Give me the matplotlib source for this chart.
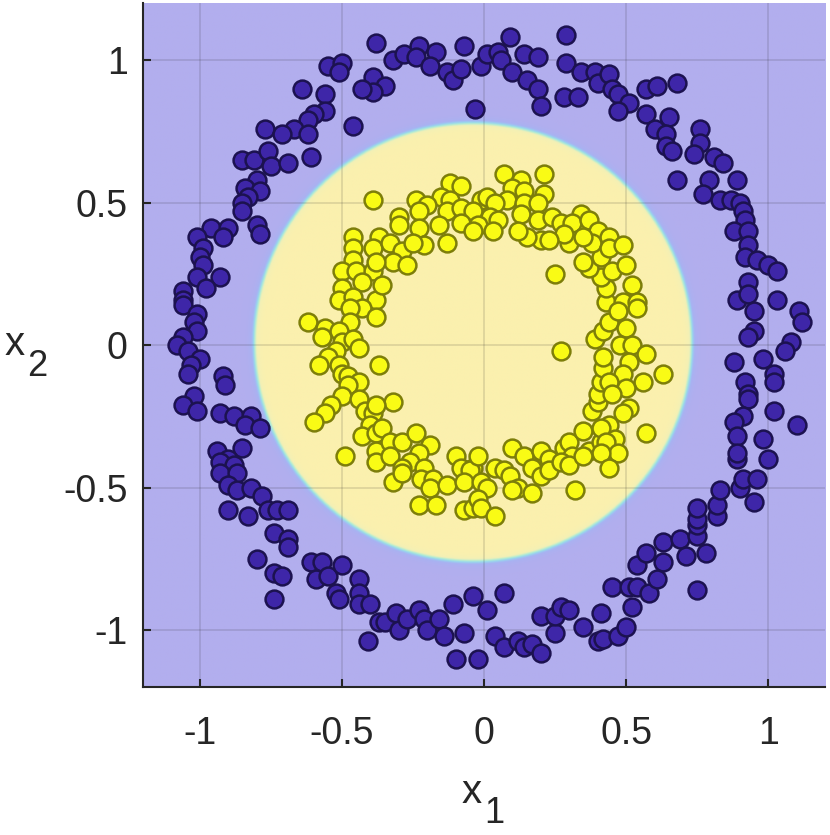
"""
Two-ring classification: scattered samples of both classes on top of the
classifier's decision region (purple = outer class, yellow = inner class).
"""
import numpy as np
import matplotlib
matplotlib.use("Agg")
import matplotlib.pyplot as plt
from matplotlib.colors import LinearSegmentedColormap

# samples of the outer ring (class 1), (x1, x2)
outer_pts = [
    (-0.38, 1.06), (-0.32, 1.00), (-0.28, 1.02), (-0.23, 1.05), (-0.24, 1.01),
    (-0.17, 1.03), (-0.19, 0.98), (-0.13, 0.96), (-0.11, 0.93), (-0.08, 0.97),
    (-0.07, 1.05), (-0.01, 0.98), (0.01, 1.02), (0.05, 1.03), (0.06, 1.00),
    (0.09, 1.08), (0.14, 1.02), (0.19, 1.01), (0.10, 0.96), (0.15, 0.93),
    (0.19, 0.90), (0.20, 0.84), (0.29, 1.09), (0.29, 0.99), (0.34, 0.96),
    (0.39, 0.96), (0.40, 0.92), (0.28, 0.87), (0.33, 0.87), (-0.03, 0.83),
    (-0.39, 0.94), (-0.35, 0.91), (-0.39, 0.89), (-0.55, 0.98), (-0.50, 0.99),
    (-0.51, 0.96), (-0.64, 0.90), (-0.56, 0.88), (-0.56, 0.82), (-0.60, 0.81),
    (-0.62, 0.79), (-0.67, 0.76), (-0.62, 0.74), (-0.77, 0.76), (-0.71, 0.74),
    (-0.43, 0.90), (-0.46, 0.77), (-0.85, 0.65), (-0.81, 0.65), (-0.76, 0.68),
    (-0.75, 0.63), (-0.69, 0.64), (-0.61, 0.66), (-0.80, 0.58), (-0.84, 0.55),
    (-0.79, 0.54), (-0.83, 0.52), (-0.85, 0.50), (-0.85, 0.47), (-0.96, 0.41),
    (-0.90, 0.41), (-1.01, 0.38), (-0.92, 0.38), (-0.80, 0.42), (-0.79, 0.39),
    (0.44, 0.95), (0.45, 0.90), (0.47, 0.88), (0.51, 0.85), (0.47, 0.82),
    (0.57, 0.90), (0.61, 0.91), (0.68, 0.92), (0.57, 0.81), (0.65, 0.80),
    (0.60, 0.76), (0.64, 0.74), (0.64, 0.70), (0.66, 0.68), (0.76, 0.76),
    (0.76, 0.71), (0.74, 0.67), (0.81, 0.66), (0.84, 0.64), (0.68, 0.58),
    (0.79, 0.58), (0.89, 0.58), (0.77, 0.53), (0.83, 0.51), (0.87, 0.51),
    (0.90, 0.50), (0.91, 0.47), (0.92, 0.44), (0.88, 0.40), (0.93, 0.40),
    (-0.99, 0.34), (-1.00, 0.31), (-0.99, 0.28), (-1.01, 0.24), (-0.93, 0.24),
    (-0.98, 0.20), (-1.06, 0.19), (-1.06, 0.16), (-1.06, 0.14), (-1.01, 0.11),
    (-1.02, 0.08), (-1.01, 0.05), (-1.06, 0.03), (-1.08, 0.00), (-1.04, -0.02),
    (-1.00, -0.05), (-1.03, -0.07), (-1.04, -0.10), (-0.92, -0.11), (-0.91, -0.14),
    (-1.02, -0.18), (-1.06, -0.21), (-1.01, -0.23), (-0.93, -0.24), (-0.88, -0.25),
    (-0.82, -0.25), (-0.84, -0.28), (-0.79, -0.29), (-0.94, -0.37), (-0.85, -0.36),
    (-0.90, -0.40), (-0.93, -0.41), (-0.88, -0.42), (-0.93, -0.45), (-0.87, -0.45),
    (-0.90, -0.49), (-0.87, -0.51), (-0.82, -0.50), (-0.78, -0.53), (-0.90, -0.58),
    (-0.83, -0.60), (-0.76, -0.58), (-0.73, -0.58), (-0.69, -0.58), (-0.74, -0.66),
    (-0.69, -0.68), (-0.69, -0.71), (-0.80, -0.75), (-0.74, -0.80), (-0.71, -0.81),
    (-0.74, -0.89), (-0.61, -0.76), (-0.57, -0.76), (-0.59, -0.82), (-0.55, -0.81),
    (-0.50, -0.77), (-0.44, -0.82), (-0.52, -0.87), (-0.51, -0.89), (-0.44, -0.87),
    (-0.44, -0.91), (-0.40, -0.91), (-0.37, -0.97), (-0.41, -1.04), (-0.35, -0.97),
    (-0.31, -0.94), (-0.30, -1.00), (-0.27, -0.96), (-0.23, -0.93), (-0.21, -0.96),
    (-0.20, -1.00), (-0.16, -0.96), (-0.14, -1.02), (-0.11, -0.91), (-0.07, -1.01),
    (-0.10, -1.10), (-0.04, -0.88), (0.01, -0.93), (-0.02, -1.10), (0.07, -0.87),
    (0.04, -1.02), (0.07, -1.06), (0.12, -1.04), (0.14, -1.06), (0.17, -1.05),
    (0.20, -1.08), (0.20, -0.95), (0.25, -1.01), (0.25, -0.95), (0.27, -0.92),
    (0.30, -0.93), (0.35, -0.99), (0.40, -1.04), (0.42, -1.03), (0.41, -0.94),
    (0.45, -0.85), (0.47, -1.02), (0.50, -0.99), (0.51, -0.85), (0.54, -0.85),
    (0.58, -0.87), (0.52, -0.92), (0.54, -0.77), (0.57, -0.73), (0.63, -0.76),
    (0.61, -0.82), (0.63, -0.69), (0.69, -0.68), (0.71, -0.74), (0.78, -0.73),
    (0.75, -0.67), (0.75, -0.63), (0.75, -0.61), (0.75, -0.57), (0.75, -0.86),
    (0.82, -0.60), (0.82, -0.56), (0.83, -0.51), (0.90, -0.50), (0.91, -0.47),
    (0.96, -0.47), (0.95, -0.55), (0.89, -0.40), (1.00, -0.40), (0.93, 0.35),
    (0.92, 0.31), (0.96, 0.30), (1.00, 0.28), (1.03, 0.26), (0.93, 0.22),
    (0.89, 0.16), (0.93, 0.18), (1.03, 0.16), (0.95, 0.12), (1.11, 0.12),
    (1.12, 0.08), (0.95, 0.05), (0.93, 0.03), (1.08, 0.01), (1.06, -0.02),
    (0.88, -0.06), (0.98, -0.05), (1.02, -0.10), (1.02, -0.13), (0.92, -0.13),
    (0.93, -0.17), (0.93, -0.19), (1.02, -0.23), (1.10, -0.28), (0.91, -0.25),
    (0.88, -0.27), (0.89, -0.32), (0.98, -0.33), (0.89, -0.38),
]

# samples of the inner ring (class 2)
inner_pts = [
    (0.07, 0.60), (0.13, 0.58), (0.21, 0.60), (0.21, 0.53), (0.10, 0.55),
    (0.14, 0.54), (0.08, 0.51), (0.14, 0.50), (0.19, 0.50), (-0.12, 0.57),
    (-0.08, 0.56), (-0.15, 0.52), (-0.12, 0.51), (-0.01, 0.51), (0.01, 0.52),
    (0.04, 0.50), (-0.24, 0.51), (-0.39, 0.51), (-0.20, 0.49), (-0.30, 0.45),
    (-0.23, 0.47), (-0.13, 0.47), (-0.08, 0.48), (-0.04, 0.47), (0.02, 0.45),
    (0.13, 0.46), (0.19, 0.44), (0.24, 0.45), (0.34, 0.46), (0.27, 0.43),
    (0.31, 0.43), (0.37, 0.44), (0.40, 0.40), (-0.23, 0.41), (-0.16, 0.42),
    (-0.08, 0.43), (-0.02, 0.42), (0.05, 0.44), (-0.37, 0.38), (-0.30, 0.42),
    (0.44, 0.38), (-0.46, 0.38), (-0.46, 0.34), (-0.39, 0.34), (-0.46, 0.30),
    (-0.50, 0.26), (-0.45, 0.26), (-0.39, 0.26), (-0.43, 0.22), (-0.50, 0.20),
    (-0.51, 0.16), (-0.46, 0.17), (-0.38, 0.16), (-0.43, 0.13), (-0.47, 0.13),
    (-0.38, 0.10), (-0.47, 0.08), (-0.62, 0.08), (-0.56, 0.06), (-0.57, 0.03),
    (-0.51, 0.05), (-0.50, 0.01), (-0.46, 0.02), (-0.44, -0.01), (-0.52, -0.02),
    (-0.55, -0.04), (-0.58, -0.07), (-0.51, -0.07), (-0.50, -0.10), (-0.48, -0.11),
    (-0.44, -0.13), (-0.48, -0.14), (-0.50, -0.18), (-0.54, -0.21), (-0.56, -0.24),
    (-0.60, -0.27), (-0.44, -0.19), (-0.42, -0.23), (-0.39, -0.24), (-0.40, -0.28),
    (-0.43, -0.32), (-0.38, -0.31), (-0.49, -0.39), (-0.38, -0.37), (-0.38, -0.41),
    (-0.37, -0.07), (-0.33, 0.36), (-0.29, 0.33), (-0.13, 0.36), (-0.21, 0.35),
    (-0.25, 0.36), (-0.32, 0.29), (-0.27, 0.28), (-0.38, 0.29), (-0.36, 0.21),
    (-0.32, -0.20), (-0.38, -0.21), (-0.36, -0.29), (-0.33, -0.34), (-0.29, -0.34),
    (-0.24, -0.31), (-0.19, -0.35), (-0.23, -0.38), (-0.33, -0.39), (-0.26, -0.41),
    (-0.10, -0.39), (-0.04, -0.43), (0.04, -0.43), (0.10, -0.36), (0.14, -0.39),
    (0.20, -0.37), (0.23, -0.40), (0.28, -0.36), (0.30, -0.34), (0.35, -0.30),
    (0.37, -0.37), (0.31, -0.39), (0.41, -0.34), (0.38, -0.23), (0.40, -0.20),
    (0.40, -0.17), (0.41, -0.13), (0.42, -0.08), (0.42, -0.04), (0.39, 0.02),
    (0.42, 0.05), (0.44, 0.08), (0.43, 0.15), (0.43, 0.20), (0.41, 0.24),
    (0.37, 0.27), (0.35, 0.29), (0.41, 0.31), (0.38, 0.36), (0.30, 0.36),
    (0.35, 0.38), (0.28, 0.39), (0.20, 0.37), (0.15, 0.38), (0.23, 0.37),
    (0.25, 0.25), (0.27, -0.02), (0.12, 0.40), (0.03, 0.40), (-0.04, 0.40),
    (0.44, 0.34), (0.49, 0.35), (0.45, 0.26), (0.50, 0.28), (0.52, 0.21),
    (0.49, 0.15), (0.54, 0.15), (0.54, 0.13), (0.47, 0.12), (0.50, 0.06),
    (0.48, 0.00), (0.52, 0.00), (0.57, -0.03), (0.51, -0.06), (0.63, -0.10),
    (0.49, -0.10), (0.56, -0.13), (0.44, -0.13), (0.50, -0.15), (0.45, -0.17),
    (0.51, -0.22), (0.49, -0.24), (0.44, -0.28), (0.41, -0.29), (0.46, -0.33),
    (0.43, -0.34), (0.57, -0.31), (0.47, -0.38), (0.41, -0.38), (0.44, -0.43),
    (-0.29, -0.43), (-0.21, -0.43), (-0.32, -0.48), (-0.29, -0.45), (-0.22, -0.47),
    (-0.18, -0.47), (-0.19, -0.50), (-0.13, -0.49), (-0.08, -0.43), (-0.05, -0.44),
    (-0.07, -0.48), (-0.01, -0.48), (0.01, -0.50), (0.07, -0.44), (0.09, -0.46),
    (0.12, -0.50), (0.17, -0.43), (0.20, -0.46), (0.17, -0.52), (0.23, -0.44),
    (0.27, -0.41), (0.30, -0.42), (0.32, -0.51), (-0.23, -0.56), (-0.17, -0.56),
    (-0.07, -0.58), (-0.04, -0.57), (-0.02, -0.54), (-0.01, -0.57), (0.04, -0.60),
    (0.10, -0.51), (-0.02, -0.39), (0.35, -0.39),
]

# decision region: roughly a disc
region_center = (-0.04, 0.01)
region_radius = 0.77

ticks = [-1, -0.5, 0, 0.5, 1]
tick_labels = ["-1", "-0.5", "0", "0.5", "1"]
lims = (-1.2, 1.2)


def main():
    plt.rcParams["font.family"] = ["Liberation Sans", "DejaVu Sans"]

    fig = plt.figure(figsize=(8.3, 8.35), dpi=100)
    ax = fig.add_axes([0.1723, 0.1772, 0.8217, 0.8190])

    # background decision surface
    g = np.linspace(lims[0], lims[1], 800)
    gx, gy = np.meshgrid(g, g)
    dist = np.hypot(gx - region_center[0], gy - region_center[1])
    score = 1.0 / (1.0 + np.exp(-(region_radius - dist) / 0.009))
    cmap = LinearSegmentedColormap.from_list(
        "region",
        [(0.0, "#b2aeee"), (0.25, "#a8b2f2"), (0.42, "#98d4ee"),
         (0.55, "#b0ecd4"), (0.72, "#f2f0b6"), (1.0, "#fbf0ae")],
    )
    ax.imshow(score, extent=(lims[0], lims[1], lims[0], lims[1]), origin="lower",
              cmap=cmap, vmin=0, vmax=1, interpolation="bilinear",
              aspect="auto", zorder=0)

    outer = np.array(outer_pts)
    inner = np.array(inner_pts)
    ax.scatter(outer[:, 0], outer[:, 1], s=165, c="#3e26a8",
               edgecolors="#1c1250", linewidths=1.8, zorder=3)
    ax.scatter(inner[:, 0], inner[:, 1], s=165, c="#f9fb15",
               edgecolors="#7d7e0a", linewidths=1.8, zorder=3)

    ax.set_xlim(*lims)
    ax.set_ylim(*lims)
    ax.set_xticks(ticks)
    ax.set_xticklabels(tick_labels)
    ax.set_yticks(ticks)
    ax.set_yticklabels(tick_labels)

    ax.set_axisbelow(True)
    ax.grid(True, color="#262626", alpha=0.15, linewidth=1.2)

    for side in ("top", "right"):
        ax.spines[side].set_visible(False)
    for side in ("left", "bottom"):
        ax.spines[side].set_color("#262626")
        ax.spines[side].set_linewidth(1.5)

    ax.tick_params(direction="in", length=6, width=1.5, color="#262626",
                   labelsize=27, labelcolor="#262626")
    ax.tick_params(axis="x", pad=21)
    ax.tick_params(axis="y", pad=11)

    # axis labels with subscripts, MATLAB style
    fig.text(472 / 830, 1 - 803 / 835, "x", fontsize=29, color="#262626",
             ha="center", va="baseline")
    fig.text(494 / 830, 1 - 823 / 835, "1", fontsize=26, color="#262626",
             ha="center", va="baseline")
    fig.text(15 / 830, 1 - 355 / 835, "x", fontsize=29, color="#262626",
             ha="center", va="baseline")
    fig.text(37 / 830, 1 - 376 / 835, "2", fontsize=26, color="#262626",
             ha="center", va="baseline")

    fig.savefig("out.png", dpi=100)
    plt.close(fig)


if __name__ == "__main__":
    main()
